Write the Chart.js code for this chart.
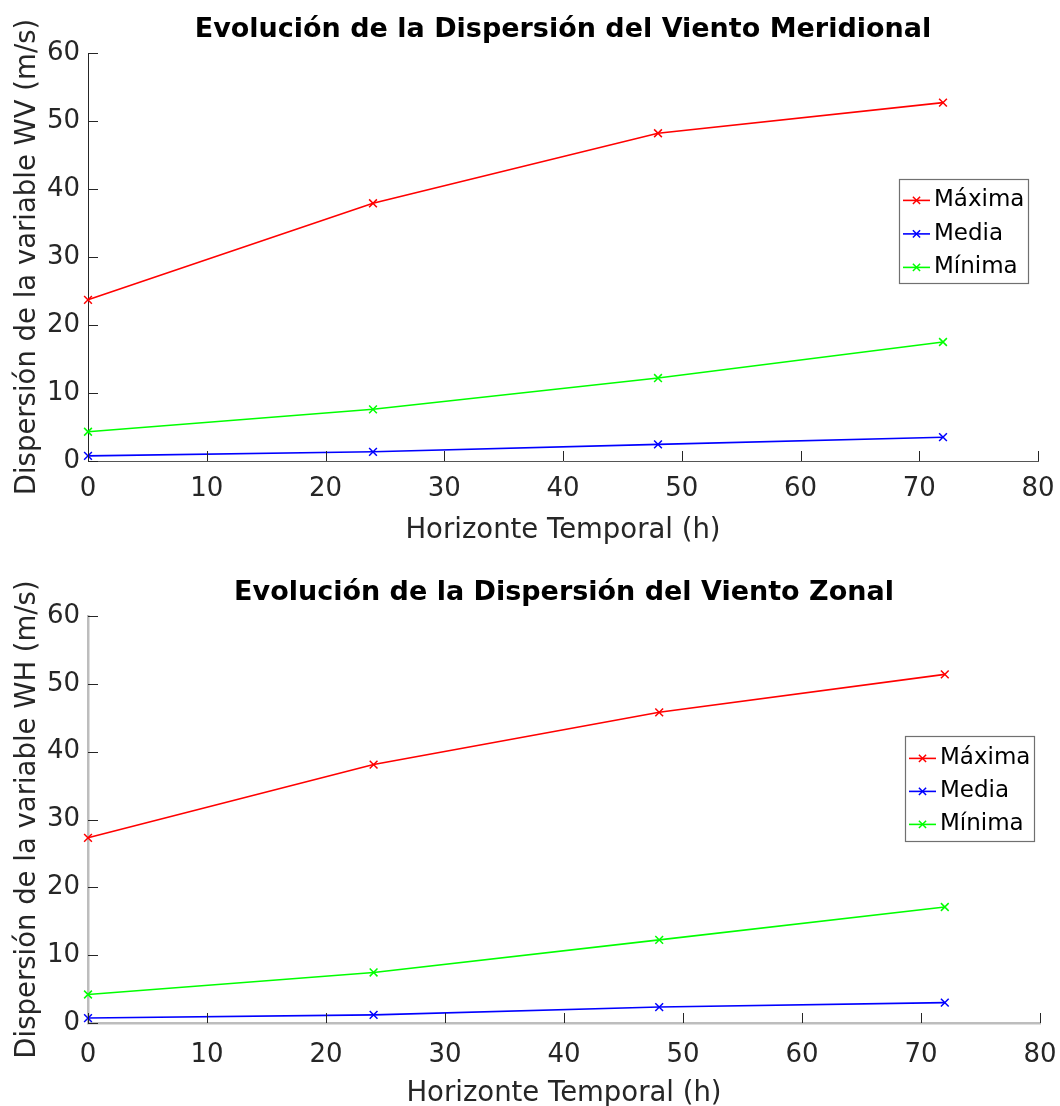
<!DOCTYPE html>
<html>
<head>
<meta charset="utf-8">
<script src="https://cdn.jsdelivr.net/npm/chart.js@4/dist/chart.umd.min.js"></script>
<style>
  html, body { margin: 0; padding: 0; background: #fff; }
  canvas { position: absolute; left: 0; }
  #wv { top: 0; }
  #wh { top: 553px; }
</style>
</head>
<body>
<canvas id="wv" width="1060" height="553"></canvas>
<canvas id="wh" width="1060" height="553"></canvas>
<script>
// ---- data ----
const horizons = [0, 24, 48, 72];
const seriesLabels = ['Máxima', 'Media', 'Mínima'];
const seriesColors = ['#ff0000', '#0000ff', '#00ff00'];

const wvMaxima = [23.7, 37.9, 48.2, 52.7];
const wvMedia  = [0.75, 1.35, 2.45, 3.5];
const wvMinima = [4.3, 7.6, 12.2, 17.5];

const whMaxima = [27.3, 38.1, 45.8, 51.4];
const whMedia  = [0.73, 1.2, 2.35, 3.0];
const whMinima = [4.2, 7.45, 12.25, 17.1];

const xTickStep = 10, xMin = 0, xMax = 80;
const yTickStep = 10, yMin = 0, yMax = 60;

const titleWV = 'Evolución de la Dispersión del Viento Meridional';
const titleWH = 'Evolución de la Dispersión del Viento Zonal';
const xLabel = 'Horizonte Temporal (h)';
const yLabelWV = 'Dispersión de la variable WV (m/s)';
const yLabelWH = 'Dispersión de la variable WH (m/s)';

const FONT = '"DejaVu Sans", "Liberation Sans", Arial, sans-serif';
const TEXT = '#262626';

Chart.defaults.font.family = FONT;
Chart.defaults.color = TEXT;

function toPoints(vals) { return horizons.map((h, i) => ({ x: h, y: vals[i] })); }

function makeDatasets(arrs) {
  return arrs.map((vals, i) => ({
    label: seriesLabels[i],
    data: toPoints(vals),
    borderColor: seriesColors[i],
    backgroundColor: seriesColors[i],
    pointBorderColor: seriesColors[i],
    borderWidth: 1.6,
    pointStyle: 'crossRot',
    pointRadius: 5.5,
    pointBorderWidth: 1.5,
    pointHoverRadius: 5.5,
    tension: 0,
    fill: false,
    clip: false
  }));
}

const inwardTicks = {
  id: 'inwardTicks',
  afterDatasetsDraw(chart) {
    const { ctx, chartArea, scales } = chart;
    const xs = scales.x, ys = scales.y;
    ctx.save();
    ctx.strokeStyle = TEXT;
    ctx.lineWidth = 1;
    ctx.beginPath();
    xs.ticks.forEach(t => {
      const px = Math.round(xs.getPixelForValue(t.value)) + 0.5;
      ctx.moveTo(px, chartArea.bottom);
      ctx.lineTo(px, chartArea.bottom - 10);
    });
    ys.ticks.forEach(t => {
      const py = Math.round(ys.getPixelForValue(t.value)) + 0.5;
      ctx.moveTo(chartArea.left, py);
      ctx.lineTo(chartArea.left + 10, py);
    });
    ctx.stroke();
    ctx.restore();
  }
};

const boxLegend = {
  id: 'boxLegend',
  afterDatasetsDraw(chart, args, opts) {
    const ctx = chart.ctx;
    const { x, y, w, h, rowTop, rowStep } = opts;
    ctx.save();
    ctx.fillStyle = '#ffffff';
    ctx.fillRect(x, y, w, h);
    ctx.strokeStyle = '#707070';
    ctx.lineWidth = 1.2;
    ctx.strokeRect(x + 0.5, y + 0.5, w, h);
    chart.data.datasets.forEach((ds, i) => {
      const cy = y + rowTop + i * rowStep;
      ctx.strokeStyle = ds.borderColor;
      ctx.lineWidth = 1.6;
      ctx.beginPath();
      ctx.moveTo(x + 4, cy);
      ctx.lineTo(x + 31, cy);
      ctx.stroke();
      const mx = x + 17.5, r = 3.6;
      ctx.lineWidth = 1.5;
      ctx.beginPath();
      ctx.moveTo(mx - r, cy - r); ctx.lineTo(mx + r, cy + r);
      ctx.moveTo(mx - r, cy + r); ctx.lineTo(mx + r, cy - r);
      ctx.stroke();
      ctx.fillStyle = '#000000';
      ctx.font = '23px ' + FONT;
      ctx.textAlign = 'left';
      ctx.textBaseline = 'middle';
      ctx.fillText(ds.label, x + 35, cy);
    });
    ctx.restore();
  }
};

function makeChart(id, datasets, cfg) {
  return new Chart(document.getElementById(id), {
    type: 'line',
    data: { datasets },
    plugins: [inwardTicks, boxLegend],
    options: {
      responsive: false,
      animation: false,
      devicePixelRatio: 1,
      layout: { padding: { left: 0, right: cfg.padRight, top: 0, bottom: 0 } },
      plugins: {
        legend: { display: false },
        tooltip: { enabled: false },
        title: {
          display: true,
          text: cfg.title,
          fullSize: false,
          color: '#000000',
          font: { size: 27, weight: 'bold', lineHeight: 1.2 },
          padding: { top: cfg.titleTop, bottom: cfg.titleBottom }
        },
        boxLegend: cfg.legend
      },
      scales: {
        x: {
          type: 'linear',
          min: xMin, max: xMax,
          afterFit(s) { s.height = cfg.xHeight; s.paddingLeft = 0; s.paddingRight = 0; },
          ticks: { stepSize: xTickStep, color: TEXT, font: { size: 26 }, padding: cfg.xTickPad, maxRotation: 0, autoSkip: false },
          grid: { display: true, drawOnChartArea: false, drawTicks: false },
          border: { display: true, color: cfg.xBorder, width: cfg.borderW },
          title: { display: true, text: xLabel, color: TEXT, font: { size: 27.5, lineHeight: 1.0 }, padding: { top: 0, bottom: cfg.xTitlePad } }
        },
        y: {
          type: 'linear',
          min: yMin, max: yMax,
          afterFit(s) { s.width = 88; },
          ticks: { stepSize: yTickStep, color: TEXT, font: { size: 26 }, padding: 8 },
          grid: { display: true, drawOnChartArea: false, drawTicks: false },
          border: { display: true, color: cfg.yBorder, width: cfg.borderW },
          title: { display: true, text: cfg.yLabel, color: TEXT, font: { size: 27.5, lineHeight: 1.2 }, padding: { top: 11, bottom: 0 } }
        }
      }
    }
  });
}

makeChart('wv', makeDatasets([wvMaxima, wvMedia, wvMinima]), {
  title: titleWV, yLabel: yLabelWV,
  padRight: 22, titleTop: 14, titleBottom: 6.6,
  xHeight: 92, xTickPad: 13, xTitlePad: 8,
  xBorder: '#555555', yBorder: '#262626', borderW: 1,
  legend: { x: 899, y: 179, w: 129, h: 104, rowTop: 21.4, rowStep: 33.5 }
});

makeChart('wh', makeDatasets([whMaxima, whMedia, whMinima]), {
  title: titleWH, yLabel: yLabelWH,
  padRight: 20, titleTop: 23.4, titleBottom: 7.2,
  xHeight: 83, xTickPad: 17, xTitlePad: -2,
  xBorder: '#bdbdbd', yBorder: '#bdbdbd', borderW: 2.5,
  legend: { x: 905, y: 183, w: 129, h: 105, rowTop: 22.4, rowStep: 33 }
});
</script>
</body>
</html>
